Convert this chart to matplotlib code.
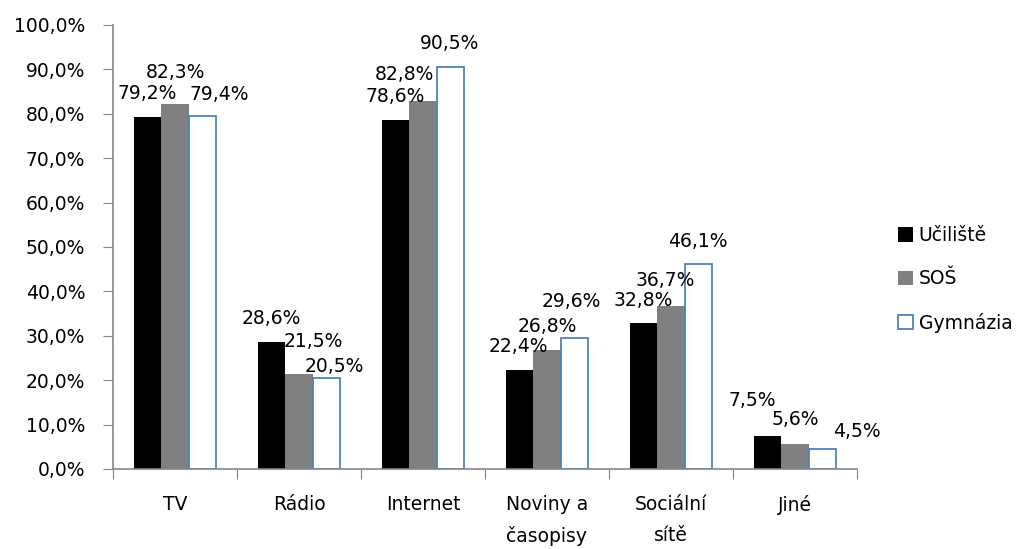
import matplotlib
matplotlib.use('Agg')
import matplotlib.pyplot as plt
import numpy as np

# Data
categories = ['TV', 'Rádio', 'Internet', 'Noviny a\nčasopisy', 'Sociální\nsítě', 'Jiné']
series_names = ['Učiliště', 'SOŠ', 'Gymnázia']
uciliste = [79.2, 28.6, 78.6, 22.4, 32.8, 7.5]
sos = [82.3, 21.5, 82.8, 26.8, 36.7, 5.6]
gymnazia = [79.4, 20.5, 90.5, 29.6, 46.1, 4.5]

# label nudges in pixels: dx from bar centre, baseline height above bar top
label_dx = [[0, 0, 17], [0, 14, 8], [0, -19, -1], [-1, 0, -3], [0, -6, -1], [-15, 0, 34]]
label_dy = [[18, 26, 16], [18, 27, 6], [18, 21, 18], [18, 18, 31], [17, 20, 17], [30, 19, 12]]

plt.rcParams['font.family'] = ['DejaVu Sans']
fs = 13.5
fig = plt.figure(figsize=(10.28, 5.49), dpi=100)
ax = fig.add_axes([113 / 1028, 80 / 549, 744 / 1028, 444 / 549])

x = np.arange(len(categories))
w = 0.223
styles = [dict(color='black'),
          dict(color='#808080'),
          dict(facecolor='white', edgecolor='#4F81BD', linewidth=1.3)]
all_vals = [uciliste, sos, gymnazia]
for i, (vals, st, name) in enumerate(zip(all_vals, styles, series_names)):
    xs = x + (i - 1) * w
    ax.bar(xs, vals, width=w, label=name, **st, zorder=2)
    for j, v in enumerate(vals):
        ax.annotate(f'{v:.1f}%'.replace('.', ','), (xs[j], v),
                    xytext=(label_dx[j][i], label_dy[j][i]),
                    textcoords='offset pixels', ha='center', va='baseline',
                    fontsize=fs, color='black', annotation_clip=False)

ax.set_xlim(-0.5, len(categories) - 0.5)
ax.set_ylim(0, 100)
yt = np.arange(0, 101, 10)
ax.set_yticks(yt)
ax.set_yticklabels([f'{t:.1f}%'.replace('.', ',') for t in yt], fontsize=fs)

ax.set_xticks(np.arange(-0.5, len(categories)), minor=False)
ax.set_xticklabels([])
ax.set_xticks(x, minor=True)
ax.set_xticklabels(categories, minor=True, fontsize=fs, va='top', linespacing=1.75)
ax.tick_params(axis='x', which='minor', length=0, pad=19)
ax.tick_params(axis='x', which='major', length=7, color='#868686', direction='out')
ax.tick_params(axis='y', length=7, color='#868686', direction='out', pad=13)

for s in ['top', 'right']:
    ax.spines[s].set_visible(False)
for s in ['left', 'bottom']:
    ax.spines[s].set_color('#868686')
    ax.spines[s].set_linewidth(1.2)

ax.legend(loc='upper left', bbox_to_anchor=(898 / 1028, 1 - 226 / 549), bbox_transform=fig.transFigure,
          frameon=False, fontsize=fs, handlelength=0.8, handleheight=0.8,
          handletextpad=0.3, labelspacing=1.3, borderaxespad=0, borderpad=0)

fig.savefig('out.png', dpi=100)
